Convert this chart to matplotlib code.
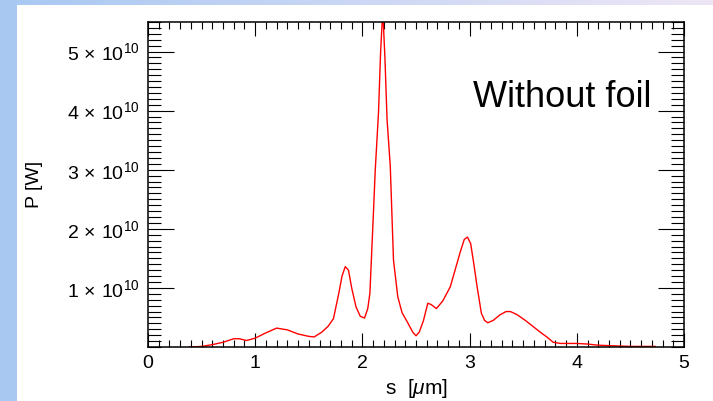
import matplotlib
matplotlib.use("Agg")
import matplotlib.pyplot as plt
import numpy as np
from matplotlib.ticker import MultipleLocator, FixedLocator

plt.rcParams['font.family'] = ['Liberation Sans', 'DejaVu Sans']
plt.rcParams['mathtext.fontset'] = 'custom'
plt.rcParams['mathtext.rm'] = 'Liberation Sans'
plt.rcParams['mathtext.it'] = 'Liberation Sans:italic'

# curve (s in um, P in units of 1e10 W)
s = [0.39, 0.5, 0.6, 0.7, 0.8, 0.85, 0.92, 1.0, 1.1, 1.2,
     1.3, 1.4, 1.5, 1.55, 1.62, 1.68, 1.73, 1.78, 1.81, 1.84,
     1.87, 1.9, 1.94, 1.98, 2.02, 2.05, 2.07, 2.10, 2.12, 2.15,
     2.17, 2.19, 2.21, 2.23, 2.26, 2.29, 2.33, 2.37, 2.42, 2.47,
     2.5, 2.53, 2.57, 2.61, 2.64, 2.69, 2.75, 2.82, 2.88, 2.91,
     2.95, 2.98, 3.01, 3.04, 3.07, 3.11, 3.14, 3.17, 3.22, 3.28,
     3.34, 3.38, 3.44, 3.52, 3.59, 3.66, 3.72, 3.78, 3.85, 4.0,
     4.1, 4.2, 4.35, 4.5, 4.73]
P = [0.0, 0.01, 0.04, 0.08, 0.14, 0.14, 0.11, 0.15, 0.24, 0.32,
     0.29, 0.22, 0.18, 0.17, 0.25, 0.35, 0.48, 0.91, 1.2, 1.36,
     1.3, 1.0, 0.68, 0.52, 0.49, 0.65, 0.91, 2.15, 3.0, 3.96,
     5.0, 5.7, 4.9, 3.85, 3.06, 1.47, 0.85, 0.58, 0.42, 0.25,
     0.19, 0.25, 0.45, 0.74, 0.72, 0.65, 0.78, 1.02, 1.4, 1.59,
     1.82, 1.86, 1.75, 1.4, 1.02, 0.57, 0.45, 0.41, 0.45, 0.54,
     0.6, 0.6, 0.55, 0.45, 0.35, 0.25, 0.17, 0.08, 0.06, 0.06,
     0.05, 0.03, 0.02, 0.01, 0.01]

xticks = [0, 1, 2, 3, 4, 5]
yticks = [1e10, 2e10, 3e10, 4e10, 5e10]
ylabels = [r'$1\,\times\,10^{10}$', r'$2\,\times\,10^{10}$', r'$3\,\times\,10^{10}$',
           r'$4\,\times\,10^{10}$', r'$5\,\times\,10^{10}$']

fig = plt.figure(figsize=(7.13, 4.01), dpi=100)
fig.patch.set_facecolor('white')

# slide background: blue strip on the left, gradient strip on top
left = fig.add_axes([0, 0, 17 / 713, 1])
left.set_facecolor('#a8c8f2')
left.set_xticks([]); left.set_yticks([])
for sp in left.spines.values():
    sp.set_visible(False)
top = fig.add_axes([0, 1 - 5 / 401, 1, 5 / 401])
c0 = np.array([0xa8, 0xc8, 0xf2]) / 255
c1 = np.array([0xee, 0xe6, 0xf6]) / 255
t = np.linspace(0, 1, 256)[None, :, None]
top.imshow(c0 + (c1 - c0) * t, aspect='auto', extent=[0, 1, 0, 1])
top.set_axis_off()

ax = fig.add_axes([148 / 713, 1 - 347 / 401, 536 / 713, 325 / 401])
ax.plot(s, np.array(P) * 1e10, color='red', lw=1.0)
ax.set_xlim(0, 5)
ax.set_ylim(0, 5.5e10)

ax.xaxis.set_major_locator(FixedLocator(xticks))
ax.xaxis.set_minor_locator(MultipleLocator(0.1))
ax.yaxis.set_major_locator(FixedLocator(yticks))
ax.yaxis.set_minor_locator(MultipleLocator(1e9))
ax.set_yticklabels(ylabels)

ax.tick_params(axis='both', which='both', direction='in', top=True, right=True,
               width=0.8, color='black', labelsize=14)
ax.tick_params(axis='x', which='major', length=10, pad=6)
ax.tick_params(axis='x', which='minor', length=5)
ax.tick_params(axis='y', which='major', length=19, pad=6)
ax.tick_params(axis='y', which='minor', length=9.5)
for sp in ax.spines.values():
    sp.set_linewidth(1.1)

ax.set_xlabel(r's  [$\mu$m]', fontsize=15, labelpad=3)
ax.set_ylabel('P [W]', fontsize=14)
ax.yaxis.set_label_coords(-0.195, 0.5)

ax.text(4.7, 4.22e10, 'Without foil', fontsize=26, ha='right', va='center')

fig.savefig('out.png', dpi=100)
